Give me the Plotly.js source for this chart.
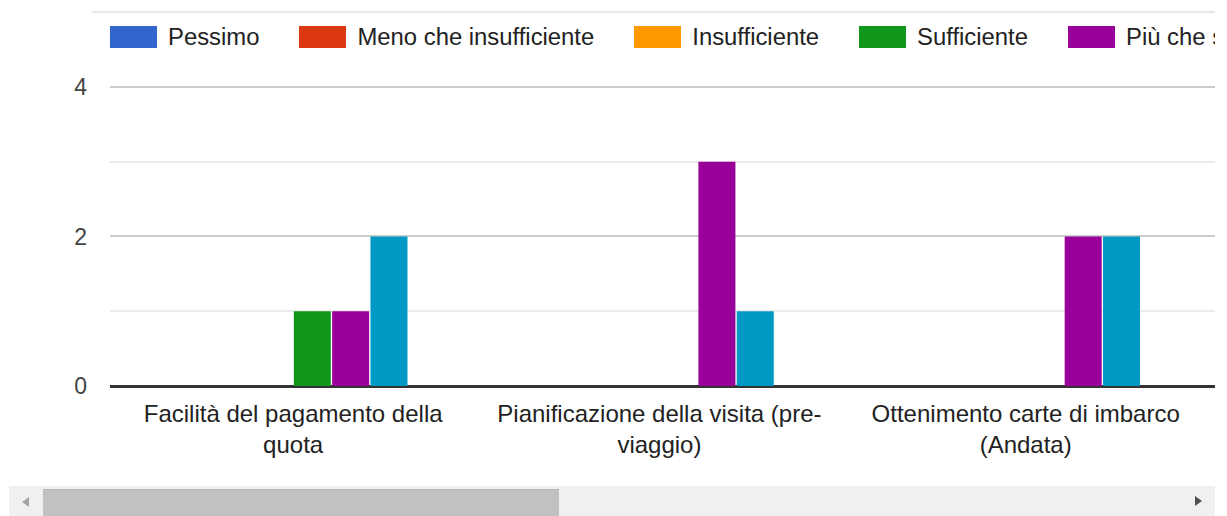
<!DOCTYPE html>
<html>
<head>
<meta charset="utf-8">
<script src="https://cdn.plot.ly/plotly-3.0.1.min.js"></script>
<style>
html,body{margin:0;padding:0;background:#fff;width:1227px;height:516px;overflow:hidden;font-family:"Liberation Sans",Arial,sans-serif;}
#clip{position:absolute;left:0;top:0;width:1215px;height:486px;overflow:hidden;}
#chart{position:absolute;left:0;top:0;width:1600px;height:486px;}
#topline{position:absolute;left:92px;top:11px;width:1123px;height:2px;background:#e8e8e8;}
#legend{position:absolute;left:110px;top:26px;height:22px;display:flex;align-items:center;white-space:nowrap;}
.item{display:flex;align-items:center;margin-right:40px;flex:none;}
.sw{width:47px;height:22px;margin-right:11px;flex:none;}
.lt{font-size:23.85px;color:#222;line-height:22px;}
#track{position:absolute;left:9px;top:486px;width:1206px;height:30px;background:#f0f0f0;}
#thumb{position:absolute;left:43px;top:489px;width:516px;height:27px;background:#c1c1c1;border-top:1px solid #b4b4b4;box-sizing:border-box;}
#larr{position:absolute;left:22px;top:497px;width:0;height:0;border-top:5px solid transparent;border-bottom:5px solid transparent;border-right:7px solid #a3a3a3;}
#rarr{position:absolute;left:1195px;top:496px;width:0;height:0;border-top:5.5px solid transparent;border-bottom:5.5px solid transparent;border-left:7px solid #505050;}
</style>
</head>
<body>
<div id="clip">
  <div id="chart"></div>
  <div id="topline"></div>
  <div id="legend"></div>
</div>
<div id="track"></div>
<div id="thumb"></div>
<div id="larr"></div>
<div id="rarr"></div>
<script>
// ---- data ----
const categories = [
  "Facilità del pagamento della quota",
  "Pianificazione della visita (pre-viaggio)",
  "Ottenimento carte di imbarco (Andata)"
];
const tickLabels = [
  "Facilità del pagamento della<br>quota",
  "Pianificazione della visita (pre-<br>viaggio)",
  "Ottenimento carte di imbarco<br>(Andata)"
];
const seriesNames = ["Pessimo", "Meno che insufficiente", "Insufficiente", "Sufficiente", "Più che sufficiente", "Ottimo"];
const pessimo = [0, 0, 0];
const menoCheInsufficiente = [0, 0, 0];
const insufficiente = [0, 0, 0];
const sufficiente = [1, 0, 0];
const piuCheSufficiente = [1, 3, 2];
const ottimo = [2, 1, 2];
const yTicks = [0, 2, 4];
// ---- styles ----
const colors = ["#3366cc", "#dc3912", "#ff9900", "#109618", "#990099", "#0099c6"];
const seriesValues = [pessimo, menoCheInsufficiente, insufficiente, sufficiente, piuCheSufficiente, ottimo];

const traces = seriesValues.map((vals, i) => ({
  type: 'bar',
  name: seriesNames[i],
  x: categories,
  y: vals,
  marker: {color: colors[i], line: {width: 0}},
  hoverinfo: 'none'
}));

const fontFam = '"Liberation Sans", Arial, sans-serif';
const layout = {
  width: 1600,
  height: 486,
  margin: {l: 110, r: 0, t: 72, b: 97, pad: 0},
  paper_bgcolor: '#ffffff',
  plot_bgcolor: '#ffffff',
  barmode: 'group',
  bargap: 0.372,
  bargroupgap: 0.035,
  showlegend: false,
  font: {family: fontFam, color: '#222'},
  xaxis: {
    type: 'category',
    range: [-0.5, 3.568],
    tickmode: 'array',
    tickvals: categories,
    ticktext: tickLabels,
    tickfont: {size: 24, color: '#222', family: fontFam},
    showgrid: false, zeroline: false, showline: false, ticks: '',
    ticklabelstandoff: 8,
    fixedrange: true, automargin: false
  },
  yaxis: {
    range: [-0.04, 4.2],
    tickmode: 'array',
    tickvals: yTicks,
    ticktext: yTicks.map(String),
    tickfont: {size: 23, color: '#444', family: fontFam},
    showgrid: true, gridcolor: '#cccccc', gridwidth: 2,
    minor: {tickmode: 'linear', tick0: 0, dtick: 1, showgrid: true, gridcolor: '#ebebeb', gridwidth: 2, ticks: ''},
    zeroline: true, zerolinecolor: '#333333', zerolinewidth: 3,
    showline: false, ticks: '',
    ticklabelstandoff: 22,
    fixedrange: true, automargin: false
  }
};

Plotly.newPlot('chart', traces, layout, {displayModeBar: false, staticPlot: true});

// legend (HTML, clipped like the scrolling original)
const leg = document.getElementById('legend');
seriesNames.forEach((n, i) => {
  const it = document.createElement('div'); it.className = 'item';
  const sw = document.createElement('div'); sw.className = 'sw'; sw.style.background = colors[i];
  const t = document.createElement('span'); t.className = 'lt'; t.textContent = n;
  it.appendChild(sw); it.appendChild(t); leg.appendChild(it);
});
</script>
</body>
</html>
